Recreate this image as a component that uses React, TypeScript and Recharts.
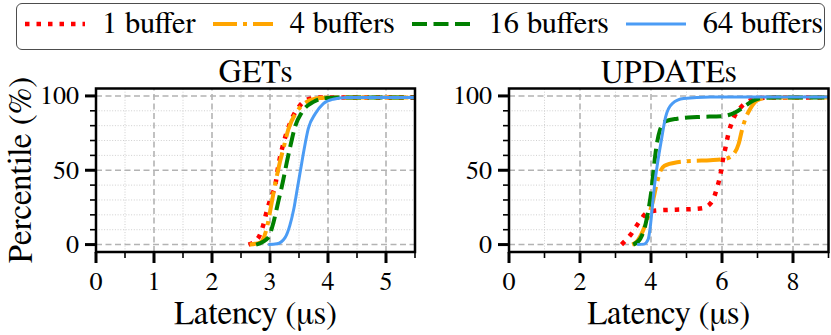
import React from 'react';
import { LineChart, Line, XAxis, YAxis, ReferenceLine, ReferenceArea } from 'recharts';

const FONT = 'FreeSerif';

// ---- series meta ----
const seriesNames = ['1 buffer', '4 buffers', '16 buffers', '64 buffers'];
const seriesColors = ['#ff0000', '#ffa500', '#008000', '#4b9cf5'];
const seriesDash = ['4.5 7', '24 6 4 6', '15 6.5', undefined];
const seriesWidth = [4.5, 4, 4, 3];

// ---- axis ticks ----
const yTicks = [0, 10, 20, 30, 40, 50, 60, 70, 80, 90, 100];
const yMajor = [0, 50, 100];
const getsXTicks = [0, 0.5, 1, 1.5, 2, 2.5, 3, 3.5, 4, 4.5, 5, 5.5];
const getsXMajor = [0, 1, 2, 3, 4, 5];
const updXTicks = [0, 1, 2, 3, 4, 5, 6, 7, 8, 9];
const updXMajor = [0, 2, 4, 6, 8];

// ---- GETs: [latency (us), percentile] ----
const getsBuf1 = [[2.63, 0], [2.8, 4.7], [2.88, 12.6], [2.95, 23.4], [3.01, 31], [3.1, 41.9], [3.13, 49.8], [3.18, 60], [3.23, 67.8], [3.3, 76.8], [3.39, 85.8], [3.52, 93.7], [3.69, 98.2], [3.9, 99], [5.5, 99]];
const getsBuf4 = [[2.65, 0], [2.83, 1.4], [2.94, 10.4], [3.03, 28.4], [3.09, 40.8], [3.17, 55.4], [3.23, 64.5], [3.32, 78], [3.46, 89.2], [3.63, 96], [3.86, 98.6], [4.1, 99], [5.5, 99]];
const getsBuf16 = [[2.76, 0], [2.97, 4.7], [3.06, 14.9], [3.14, 28.4], [3.22, 41.9], [3.29, 55.4], [3.36, 67.8], [3.43, 79], [3.55, 89], [3.75, 96], [3.98, 98.6], [4.2, 99], [5.5, 99]];
const getsBuf64 = [[2.97, 0], [3.12, 0.5], [3.26, 4.7], [3.34, 12.6], [3.41, 23.9], [3.47, 37.4], [3.53, 51], [3.59, 64.5], [3.66, 78], [3.78, 88], [3.92, 94.9], [4.09, 97.8], [4.32, 98.9], [4.6, 99], [5.5, 99]];

// ---- UPDATEs: [latency (us), percentile] ----
const updBuf1 = [[3.17, 0], [3.45, 7.4], [3.66, 15], [3.9, 21.6], [4.2, 23], [4.7, 23.5], [5.1, 23.8], [5.45, 24.5], [5.72, 29], [5.87, 39], [5.96, 47.5], [6.02, 56.5], [6.1, 65.5], [6.18, 74.5], [6.28, 82.4], [6.5, 91.5], [6.8, 97], [7.1, 98.6], [7.5, 99], [9, 99]];
const updBuf4 = [[3.47, 0], [3.6, 2], [3.75, 8], [3.91, 18], [4.04, 28], [4.15, 39.7], [4.25, 48.6], [4.38, 53], [4.74, 55.4], [5.2, 56.3], [5.67, 56.7], [6.1, 57.7], [6.33, 61], [6.47, 67.8], [6.56, 76.8], [6.66, 84.7], [6.8, 91.5], [6.99, 97], [7.2, 98.6], [7.6, 99], [9, 99]];
const updBuf16 = [[3.5, 0], [3.7, 4], [3.85, 14], [3.94, 25], [4.01, 36], [4.08, 52], [4.15, 65.5], [4.25, 76.8], [4.42, 83], [4.74, 84.7], [5.3, 85.8], [6.05, 86.5], [6.38, 89], [6.61, 92.6], [6.89, 97], [7.1, 98.5], [7.5, 99], [9, 99]];
const updBuf64 = [[3.61, 0], [3.8, 0.3], [3.92, 3.5], [3.98, 12], [4.04, 26], [4.1, 40], [4.18, 54], [4.29, 70], [4.41, 85.8], [4.6, 94.9], [4.92, 98.2], [5.67, 99.2], [9, 99.3]];

const toPts = (arr: number[][]) => arr.map(([x, y]) => ({ x, y }));

const getsSeries = [getsBuf1, getsBuf4, getsBuf16, getsBuf64];
const updSeries = [updBuf1, updBuf4, updBuf16, updBuf64];

const makeXTick = (majors: number[]) => (props: any) => {
  const { x, y, payload } = props;
  const major = majors.includes(payload.value);
  return (
    <g>
      <line x1={x} x2={x} y1={y} y2={y + (major ? 11 : 6)} stroke="#000" strokeWidth={major ? 3 : 1.6} />
      {major && (
        <text x={x} y={y + 38} textAnchor="middle" fontFamily={FONT} fontSize={26} fill="#000">
          {String(payload.value)}
        </text>
      )}
    </g>
  );
};

const yTick = (props: any) => {
  const { x, y, payload } = props;
  const major = yMajor.includes(payload.value);
  return (
    <g>
      <line x1={x} x2={x - (major ? 11 : 6)} y1={y} y2={y} stroke="#000" strokeWidth={major ? 3 : 1.6} />
      {major && (
        <text x={x - 17} y={y + 8.5} textAnchor="end" fontFamily={FONT} fontSize={26} fill="#000">
          {String(payload.value)}
        </text>
      )}
    </g>
  );
};

function Panel(props: {
  left: number; width: number; yAxisWidth: number; marginRight: number;
  xMax: number; xTicks: number[]; xMajor: number[]; series: number[][][]; id: string;
}) {
  const { left, width, yAxisWidth, marginRight, xMax, xTicks, xMajor, series, id } = props;
  const xMinor = xTicks.filter((t) => !xMajor.includes(t) && t > 0 && t < xMax);
  const xMaj = xMajor.filter((t) => t > 0 && t < xMax);
  const yMinor = yTicks.filter((t) => !yMajor.includes(t));
  return (
    <div style={{ position: 'absolute', left, top: 0 }}>
      <LineChart width={width} height={335} margin={{ top: 88.5, right: marginRight, bottom: 0, left: 0 }}>
        <XAxis
          type="number" dataKey="x" domain={[0, xMax]} ticks={xTicks} interval={0}
          allowDataOverflow height={83} tickSize={0} tickMargin={0}
          axisLine={false} tickLine={false} tick={makeXTick(xMajor)}
        />
        <YAxis
          type="number" dataKey="y" domain={[-5, 105]} ticks={yTicks} interval={0}
          allowDataOverflow width={yAxisWidth} tickSize={0} tickMargin={0}
          axisLine={false} tickLine={false} tick={yTick}
        />
        {yMinor.map((v) => (
          <ReferenceLine key={`ym${v}`} y={v} stroke="#cfcfcf" strokeWidth={1} strokeDasharray="1 1.7" zIndex={-60} />
        ))}
        {xMinor.map((v) => (
          <ReferenceLine key={`xm${v}`} x={v} stroke="#cfcfcf" strokeWidth={1} strokeDasharray="1 1.7" zIndex={-60} />
        ))}
        {yMajor.map((v) => (
          <ReferenceLine key={`yM${v}`} y={v} stroke="#b3b3b3" strokeWidth={1.6} strokeDasharray="6 3.5" zIndex={-50} />
        ))}
        {xMaj.map((v) => (
          <ReferenceLine key={`xM${v}`} x={v} stroke="#b3b3b3" strokeWidth={1.6} strokeDasharray="6 3.5" zIndex={-50} />
        ))}
        {series.map((s, i) => (
          <Line
            key={`${id}-${i}`} data={toPts(s)} dataKey="y" type="monotone" dot={false} activeDot={false}
            stroke={seriesColors[i]} strokeWidth={seriesWidth[i]} strokeDasharray={seriesDash[i]}
            isAnimationActive={false} name={seriesNames[i]}
          />
        ))}
        <ReferenceArea x1={0} x2={xMax} y1={-5} y2={105} fill="none" stroke="#000" strokeWidth={2.5} ifOverflow="visible" zIndex={900} />
      </LineChart>
    </div>
  );
}

function Legend() {
  return (
    <div
      style={{
        position: 'absolute', left: 16, top: 2.5, width: 808.5, height: 47, boxSizing: 'border-box',
        border: '1.5px solid #4d4d4d', borderRadius: 6, display: 'flex', alignItems: 'center',
        paddingLeft: 8, fontFamily: FONT, fontSize: 30.5, background: '#fff', whiteSpace: 'nowrap',
      }}
    >
      {seriesNames.map((n, i) => (
        <React.Fragment key={n}>
          <svg width={60} height={10} style={{ marginRight: 17, position: 'relative', top: -2.5, flexShrink: 0 }}>
            <line x1={0} x2={60} y1={5} y2={5} stroke={seriesColors[i]} strokeWidth={seriesWidth[i]} strokeDasharray={seriesDash[i]} />
          </svg>
          <span style={{ lineHeight: 1, marginRight: 17, position: 'relative', top: -1.5, flexShrink: 0, whiteSpace: 'nowrap', fontFamily: FONT }}>{n}</span>
        </React.Fragment>
      ))}
    </div>
  );
}

export default function App() {
  return (
    <div style={{ position: 'absolute', left: 0, top: 0, width: 831, height: 335, background: '#fff', overflow: 'hidden', fontFamily: FONT }}>
      <Panel left={0} width={420} yAxisWidth={96} marginRight={5} xMax={5.5} xTicks={getsXTicks} xMajor={getsXMajor} series={getsSeries} id="gets" />
      <Panel left={420} width={411} yAxisWidth={89} marginRight={2.5} xMax={9} xTicks={updXTicks} xMajor={updXMajor} series={updSeries} id="upd" />
      <svg width={831} height={335} style={{ position: 'absolute', left: 0, top: 0, pointerEvents: 'none' }}>
        <text x={255.5} y={81.5} textAnchor="middle" fontFamily={FONT} fontSize={32} fill="#000">GETs</text>
        <text x={668.75} y={81.5} textAnchor="middle" fontFamily={FONT} fontSize={32} fill="#000">UPDATEs</text>
        <text x={255.5} y={324} textAnchor="middle" fontFamily={FONT} fontSize={33} fill="#000">Latency (μs)</text>
        <text x={668.75} y={324} textAnchor="middle" fontFamily={FONT} fontSize={33} fill="#000">Latency (μs)</text>
        <text x={31} y={170} transform="rotate(-90 31 170)" textAnchor="middle" fontFamily={FONT} fontSize={33} fill="#000">Percentile (%)</text>
      </svg>
      <Legend />
    </div>
  );
}
